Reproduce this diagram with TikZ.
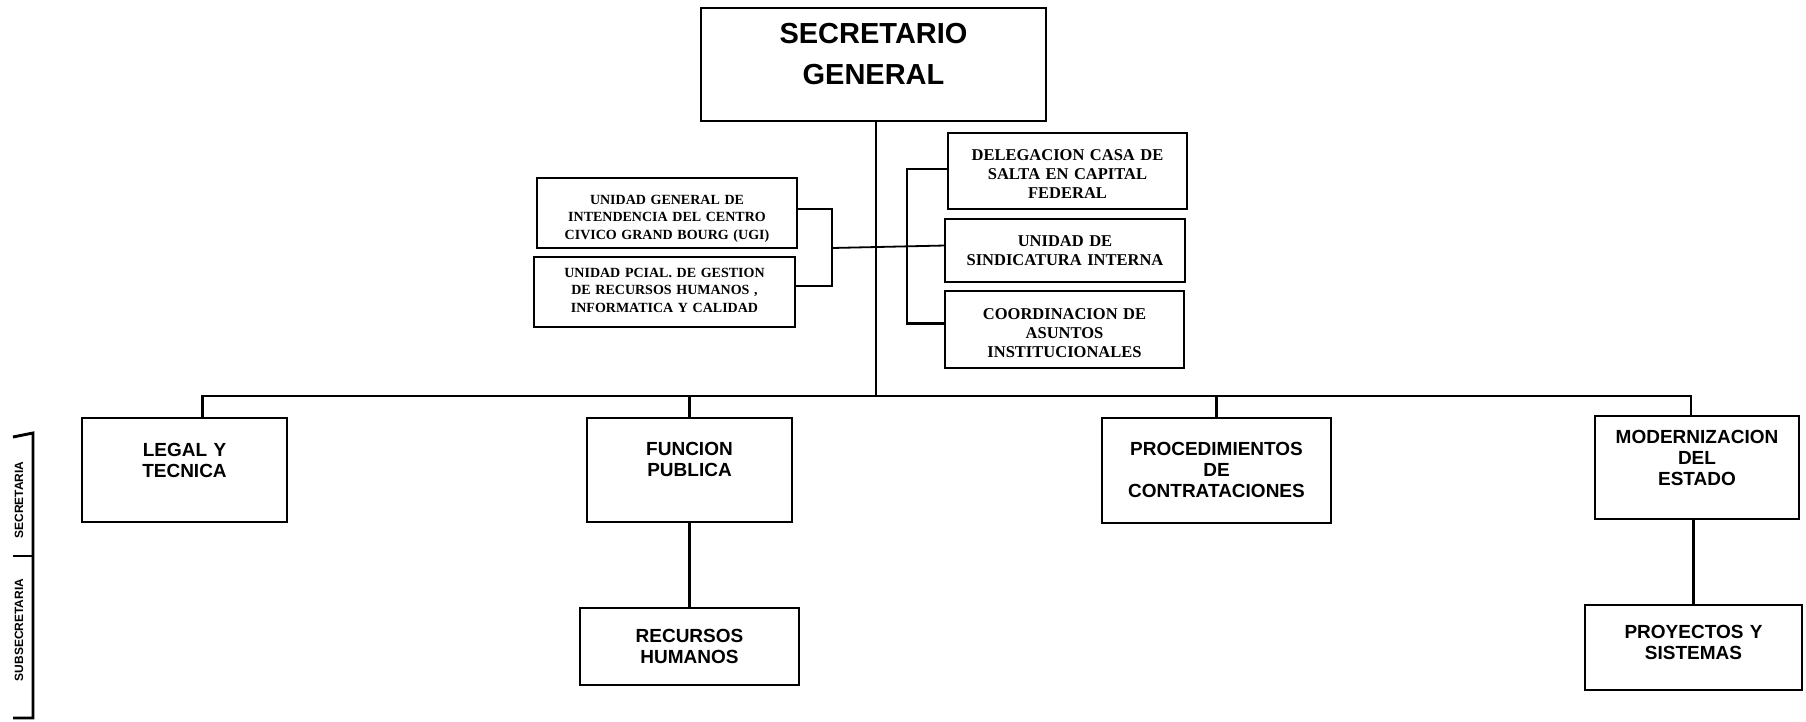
\documentclass[tikz,border=0pt]{standalone}
\usepackage{fontspec}
\setmainfont{Liberation Serif}
\setsansfont{Liberation Sans}

\tikzset{
  unit/.style={draw, line width=2.9pt, inner sep=0pt, outer sep=0pt, anchor=north west, align=center},
  dims/.style n args={3}{text width=#1, text height=#2, text depth=#3},
  head/.style={unit, font=\sffamily\bfseries\fontsize{29}{41}\selectfont},
  area/.style={unit, font=\sffamily\bfseries\fontsize{19}{21}\selectfont},
  staffr/.style={unit, font=\bfseries\fontsize{16.5}{19}\selectfont},
  staffl/.style={unit, font=\bfseries\fontsize{14}{17.5}\selectfont},
  link/.style={line width=2.9pt},
  thinlink/.style={line width=1.8pt},
  rank/.style={rotate=90, font=\sffamily\bfseries\fontsize{12}{13}\selectfont},
}

\begin{document}
\begin{tikzpicture}[x=1pt, y=-1pt]
    \useasboundingbox (0,0) rectangle (1806,721);

    % secretario
    \node[head, dims={345pt}{35pt}{78pt}] (sg) at (701,8) {SECRETARIO\\GENERAL};

    % staff units, left
    \node[staffl, dims={260pt}{26pt}{44pt}] (ugi) at (537,178) {UNIDAD GENERAL DE\\INTENDENCIA DEL CENTRO\\CIVICO GRAND BOURG (UGI)};
    \node[staffl, dims={261pt}{20pt}{50pt}] (pcial) at (534,257) {UNIDAD PCIAL. DE GESTION\\DE RECURSOS HUMANOS ,\\INFORMATICA Y CALIDAD};

    % staff units, right
    \node[staffr, dims={239pt}{27pt}{49pt}] (deleg) at (948,133) {DELEGACION CASA DE\\SALTA EN CAPITAL\\FEDERAL};
    \node[staffr, dims={240pt}{27pt}{36pt}] (sindic) at (945,219) {UNIDAD DE\\SINDICATURA INTERNA};
    \node[staffr, dims={239pt}{28pt}{49pt}] (coord) at (945,291) {COORDINACION DE\\ASUNTOS\\INSTITUCIONALES};

    % secretarias
    \node[area, dims={205pt}{38pt}{66pt}] (legal) at (82,418) {LEGAL Y\\TECNICA};
    \node[area, dims={205pt}{37pt}{67pt}] (funcion) at (587,418) {FUNCION\\PUBLICA};
    \node[area, dims={229pt}{37pt}{68pt}] (proced) at (1102,418) {PROCEDIMIENTOS\\DE\\CONTRATACIONES};
    \node[area, dims={204pt}{27pt}{76pt}] (modern) at (1595,416) {MODERNIZACION\\DEL\\ESTADO};

    % subsecretarias
    \node[area, dims={219pt}{34pt}{43pt}] (recursos) at (580,608) {RECURSOS\\HUMANOS};
    \node[area, dims={217pt}{33pt}{52pt}] (proyectos) at (1585,605) {PROYECTOS Y\\SISTEMAS};

    % main line and bus
    \coordinate (bus) at (876,396);
    \draw[link] (bus |- sg.south) -- (bus);
    \draw[link] ([xshift=18pt]legal.north) |- (bus) -| ([xshift=-6pt]modern.north);
    \draw[link] (funcion.north) -- (funcion.north |- bus);
    \draw[link] (proced.north) -- (proced.north |- bus);
    \draw[link] (funcion.south) -- (recursos.north);
    \draw[link] (proyectos.north) -- (proyectos.north |- modern.south);

    % brackets
    \coordinate (lbr) at (832,248);
    \draw[link] ([yshift=4pt]ugi.east) -| (lbr) |- ([yshift=6pt]pcial.east);
    \draw[thinlink] (lbr) -- ([yshift=5pt]sindic.west);
    \draw[link] ([yshift=2pt]deleg.west) -- ++(-41,0) |- ([yshift=6pt]coord.west);

    % rank scale
    \coordinate (st) at (33,433);
    \coordinate (sm) at (33,556);
    \coordinate (sb) at (33,718);
    \draw[link] (13,437) -- (st) -- (sb) -- (13,718);
    \draw[link] (13,556) -- (sm);
    \node[rank] (sec) at (19,500) {SECRETARIA};
    \node[rank] (subsec) at (19,630) {SUBSECRETARIA};
\end{tikzpicture}
\end{document}
